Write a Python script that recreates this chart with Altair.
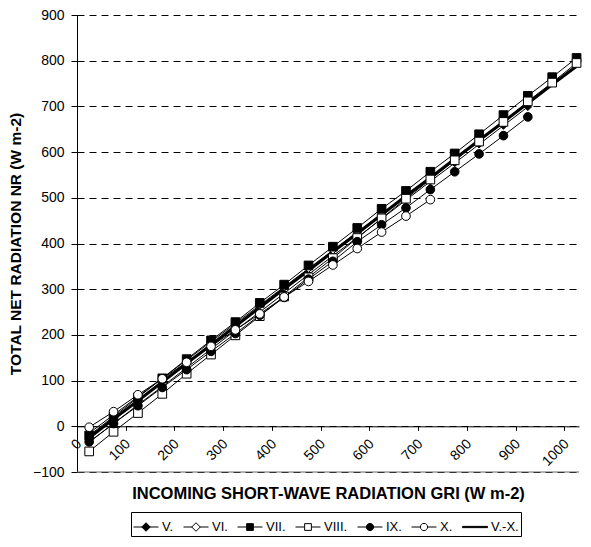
import altair as alt
import pandas as pd

# ---- data ----
gri = [25, 75, 125, 175, 225, 275, 325, 375, 425, 475, 525,
       575, 625, 675, 725, 775, 825, 875, 925, 975, 1025]

nr_V = [-35, 6, 47, 87, 128, 169, 210, 250, 291, 332, 373,
        413, 454, 495, 536, 576, 617, 658, 699]
nr_VI = [-15, 25, 65, 105, 145, 185, 225, 265, 305, 345, 385,
         425, 465, 505, 545, 585, 625, 665]
nr_VII = [-20, 21, 63, 105, 147, 188, 228, 270, 310, 352, 393,
          434, 476, 515, 557, 597, 639, 681, 723, 764, 806]
nr_VIII = [-55, -12, 29, 71, 115, 157, 199, 241, 284, 326, 368,
           412, 455, 498, 540, 582, 623, 666, 711, 752, 795]
nr_IX = [-34, 6, 45, 85, 124, 164, 203, 243, 282, 322, 361,
         404, 441, 478, 518, 557, 596, 636, 677]
nr_X = [-2, 32, 69, 104, 140, 175, 211, 246, 283, 317, 353,
        389, 425, 460, 496]
nr_VX = [-25, 16, 56, 97, 138, 178, 219, 260, 301, 341, 382,
         422, 463, 504, 544, 585, 626, 666, 707, 748, 788]

series_names = ["V.", "VI.", "VII.", "VIII.", "IX.", "X.", "V.-X."]
series_values = [nr_V, nr_VI, nr_VII, nr_VIII, nr_IX, nr_X, nr_VX]

x_ticks = list(range(0, 1001, 50))
y_ticks = list(range(-100, 901, 100))

rows = []
for name, vals in zip(series_names, series_values):
    for xv, yv in zip(gri, vals):
        rows.append({"series": name, "x": xv, "y": yv})
df = pd.DataFrame(rows)

# ---- styling ----
FONT = "Liberation Sans"
W, H = 502, 457
marker_styles = {
    "V.": ("diamond", "black", 55),
    "VI.": ("diamond", "white", 55),
    "VII.": ("square", "black", 75),
    "VIII.": ("square", "white", 75),
    "IX.": ("circle", "black", 75),
    "X.": ("circle", "white", 75),
}

seg = "M-1,0H-0.32M0.32,0H1"
legend_paths = [
    seg + "M0,-0.34L0.34,0L0,0.34L-0.34,0Z",
    seg + "M0,-0.34L0.34,0L0,0.34L-0.34,0Z",
    seg + "M-0.27,-0.27H0.27V0.27H-0.27Z",
    seg + "M-0.27,-0.27H0.27V0.27H-0.27Z",
    seg + "M-0.29,0A0.29,0.29 0 1,0 0.29,0A0.29,0.29 0 1,0 -0.29,0Z",
    seg + "M-0.29,0A0.29,0.29 0 1,0 0.29,0A0.29,0.29 0 1,0 -0.29,0Z",
    "M-1,-0.05H1V0.05H-1Z",
]
legend_fills = ["black", "white", "black", "white", "black", "white", "black"]
legend_strokes = ["black"] * 7

x_enc = alt.X(
    "x:Q",
    scale=alt.Scale(domain=[0, 1030], nice=False, zero=False),
    axis=alt.Axis(
        values=x_ticks,
        labelExpr="datum.value % 100 == 0 ? datum.label : ''",
        labelAngle=-45,
        labelAlign="right",
        labelBaseline="middle",
        labelPadding=11,
        labelOffset=2,
        offset=-H * 100 / 1000,
        grid=False,
        title="INCOMING SHORT-WAVE RADIATION GRI (W m-2)",
        titleFontSize=16.5,
        titlePadding=17,
        tickSize=4,
        format="d",
    ),
)
y_enc = alt.Y(
    "y:Q",
    scale=alt.Scale(domain=[-100, 900], nice=False),
    axis=alt.Axis(
        values=y_ticks,
        grid=True,
        gridDash=[7, 5],
        gridColor="black",
        gridWidth=1,
        title="TOTAL NET RADIATION NR (W m-2)",
        titleFontSize=15.5,
        titlePadding=9,
        tickSize=6,
        labelPadding=7,
        format="d",
    ),
)

base = alt.Chart(df)

bottom_rule = alt.Chart(pd.DataFrame({"y": [-100]})).mark_rule(
    color="#666", strokeWidth=1
).encode(y=alt.Y("y:Q"))

thin_lines = base.transform_filter("datum.series != 'V.-X.'").mark_line(
    color="black", strokeWidth=1
).encode(x=x_enc, y=y_enc, detail="series:N", order="x:Q")

thick_line = base.transform_filter("datum.series == 'V.-X.'").mark_line(
    color="black", strokeWidth=3
).encode(x="x:Q", y="y:Q", order="x:Q")

point_layers = []
for name in ["V.", "VI.", "VII.", "VIII.", "IX.", "X."]:
    shp, fill, size = marker_styles[name]
    point_layers.append(
        base.transform_filter(f"datum.series == '{name}'").mark_point(
            shape=shp, filled=True, fill=fill, stroke="black",
            strokeWidth=1, size=size, opacity=1,
        ).encode(x="x:Q", y="y:Q")
    )

leg = alt.Legend(
    title=None,
    orient="none",
    legendX=54,
    legendY=497,
    direction="horizontal",
    columns=7,
    symbolSize=625,
    symbolStrokeColor="black",
    symbolStrokeWidth=1,
    labelFont=FONT,
    labelFontSize=13,
    labelColor="black",
    labelOffset=3,
    columnPadding=7,
    strokeColor="black",
    padding=2,
)

legend_layer = base.transform_filter("datum.x < 0").mark_point(
    filled=True, strokeWidth=1, opacity=1
).encode(
    x="x:Q",
    y="y:Q",
    shape=alt.Shape("series:N", scale=alt.Scale(domain=series_names, range=legend_paths), legend=leg),
    fill=alt.Fill("series:N", scale=alt.Scale(domain=series_names, range=legend_fills), legend=leg),
    stroke=alt.Stroke("series:N", scale=alt.Scale(domain=series_names, range=legend_strokes), legend=leg),
)

chart = alt.layer(
    bottom_rule, thin_lines, thick_line, *point_layers, legend_layer
).properties(
    width=W, height=H,
    autosize=alt.AutoSizeParams(type="none"),
    padding={"top": 7, "left": 69, "right": 4, "bottom": 66},
    background="white",
).configure_view(stroke=None).configure_axis(
    labelFont=FONT,
    labelFontSize=14,
    labelColor="black",
    titleFont=FONT,
    titleFontWeight="bold",
    titleColor="black",
    domainColor="black",
    tickColor="black",
)

chart.save("out.html", embed_options={"renderer": "svg", "actions": False})
